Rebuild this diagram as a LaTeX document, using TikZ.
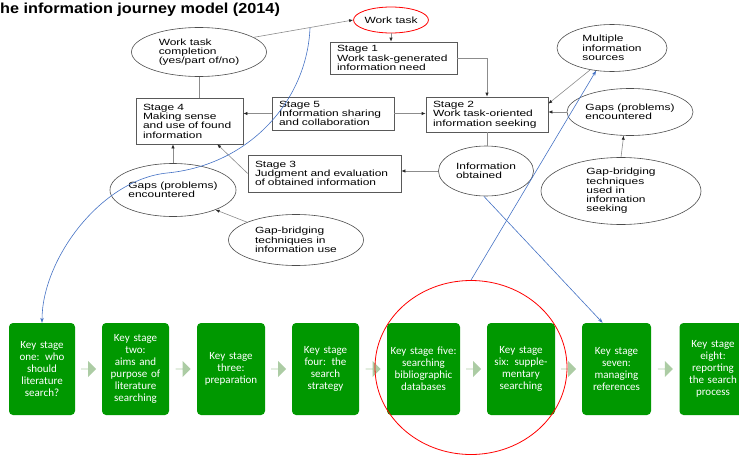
\documentclass[tikz,border=0pt]{standalone}
\usepackage{fontspec}
\setmainfont{Liberation Sans}
\newfontfamily\stagefont[FakeStretch=1.33]{Liberation Sans}
\newfontfamily\titlefont[FakeStretch=1.12]{Liberation Sans}
\newfontfamily\keyfont{Carlito}
\usetikzlibrary{positioning,shapes.geometric,shapes.arrows,arrows.meta,calc}
\definecolor{keygreen}{RGB}{0,152,0}
\definecolor{flowgreen}{RGB}{172,204,164}
\definecolor{jumpblue}{RGB}{68,114,196}

\begin{document}
\begin{tikzpicture}[
x=1pt,y=-1pt,
stage/.style={
  draw=black!65,
  line width=0.6pt,
  rectangle,
  align=left,
  inner xsep=7pt,
  inner ysep=0pt,
  font=\stagefont\fontsize{9}{9.3}\selectfont
  },
oval/.style={
  draw=black!70,
  line width=0.6pt,
  ellipse,
  align=left,
  inner sep=0pt,
  font=\stagefont\fontsize{9}{9.3}\selectfont
  },
keystage/.style={
  fill=keygreen,
  rounded corners=4pt,
  text=white,
  align=center,
  minimum height=92pt,
  inner sep=0pt,
  font=\keyfont\fontsize{11}{12}\selectfont
  },
flow/.style={
  single arrow,
  fill=flowgreen,
  minimum height=15pt,
  minimum width=16pt,
  single arrow head extend=3.5pt,
  inner sep=0pt
  },
plainlink/.style={
  draw=black!45,
  line width=0.6pt
  },
link/.style={
  plainlink,
  -{Latex[length=4pt,width=3.2pt,color=black!85]}
  },
jump/.style={
  draw=jumpblue,
  line width=0.6pt,
  -{Stealth[length=5pt,width=3.5pt]}
  }
]
\useasboundingbox (0,0) rectangle (739,455);
\node[anchor=base west,inner sep=0pt,font=\titlefont\bfseries\fontsize{14.5}{16}\selectfont] (title) at (0,13) {he information journey model (2014)};

\node[oval,draw=red,line width=0.8pt,minimum width=74pt,minimum height=26pt] (worktask) at (391,20) {Work task};
\node[oval,minimum width=135pt,minimum height=49pt] (compl) at (199,52) {Work task\\completion\\(yes/part of/no)};
\node[stage,text width=113pt,minimum height=32pt] (stage1) at (393.5,58) {Stage 1\\Work task-generated\\information need};
\node[stage,text width=108pt,minimum height=35pt] (stage2) at (487,114.5) {Stage 2\\Work task-oriented\\information seeking};
\node[stage,text width=108pt,minimum height=33pt] (stage5) at (333,113.5) {Stage 5\\Information sharing\\and collaboration};
\node[stage,text width=93pt,minimum height=46pt] (stage4) at (189.5,121) {Stage 4\\Making sense\\and use of found\\information};
\node[stage,text width=139pt,minimum height=37pt] (stage3) at (324.5,173.5) {Stage 3\\Judgment and evaluation\\of obtained information};
\node[oval,minimum width=116pt,minimum height=53pt] (gapsL) at (173,190) {Gaps (problems)\\encountered};
\node[oval,minimum width=135pt,minimum height=51pt] (gbL) at (296,240) {Gap-bridging\\techniques in\\information use};
\node[oval,minimum width=95pt,minimum height=50pt] (info) at (486,171) {Information\\obtained};
\node[oval,minimum width=110pt,minimum height=47pt] (multi) at (612,48) {Multiple\\information\\sources};
\node[oval,minimum width=126pt,minimum height=47pt] (gapsR) at (630,112) {Gaps (problems)\\encountered};
\node[oval,minimum width=160pt,minimum height=67pt] (gbR) at (621,191) {Gap-bridging\\techniques\\used in\\information\\seeking};

\draw[link] (compl.15) -- (worktask.west);
\draw[link] (worktask.south) -- (worktask.south |- stage1.north);
\draw[link] (stage1.east) -| (stage2.north);
\draw[link] (stage5.east) -- (stage5.east -| stage2.west);
\draw[link] (stage5.west) -- (stage5.west -| stage4.east);
\draw[plainlink] (compl.south) -- (compl.south |- stage4.north);
\draw[link] (stage3.west) -- (stage4.-40);
\draw[link] (gapsL.north) -- (gapsL.north |- stage4.south);
\draw[link] (gbL.160) -- (gapsL.-25);
\draw[plainlink] (stage2.south) -- (stage2.south |- info.north);
\draw[link] (info.west) -- (info.west -| stage3.east);
\draw[link] (multi.225) -- (stage2.10);
\draw[link] (gapsR.west) -- (gapsR.west -| stage2.east);
\draw[link] (gbR.north) -- (gapsR.255);

\foreach \cx/\w/\txt [count=\i] in {
  42/66/{Key stage\\one: who\\should\\literature\\search?},
  135.5/67/{Key stage\\two:\\aims and\\purpose of\\literature\\searching},
  231/68/{Key stage\\three:\\preparation},
  325.5/67/{Key stage\\four: the\\search\\strategy},
  423.5/73/{Key stage five:\\searching\\bibliographic\\databases},
  521/68/{Key stage\\six: supple-\\mentary\\searching},
  616.5/69/{Key stage\\seven:\\managing\\references},
  713/67/{Key stage\\eight:\\reporting\\the search\\process}}
  \node[keystage,minimum width=\w pt,text width=\w pt] (ks\i) at (\cx,369) {\txt};
\foreach \i [count=\j from 2] in {1,...,7}
  \node[flow] (flow\i) at ($(ks\i.east)!0.5!(ks\j.west)$) {};

\node[ellipse,draw=red,line width=0.8pt,minimum width=192pt,minimum height=174pt] (focus) at (471,367.5) {};

\coordinate (bluestart) at (310,28);
\draw[jump] (bluestart) .. controls (307,100) and (250,165) .. (167,173)
  .. controls (100,180) and (42,260) .. (ks1.north);
\draw[jump] (info.265) -- ($(ks7.north west)!0.3!(ks7.north east)$);
\draw[jump] (focus.north) -- (multi.235);
\end{tikzpicture}
\end{document}
